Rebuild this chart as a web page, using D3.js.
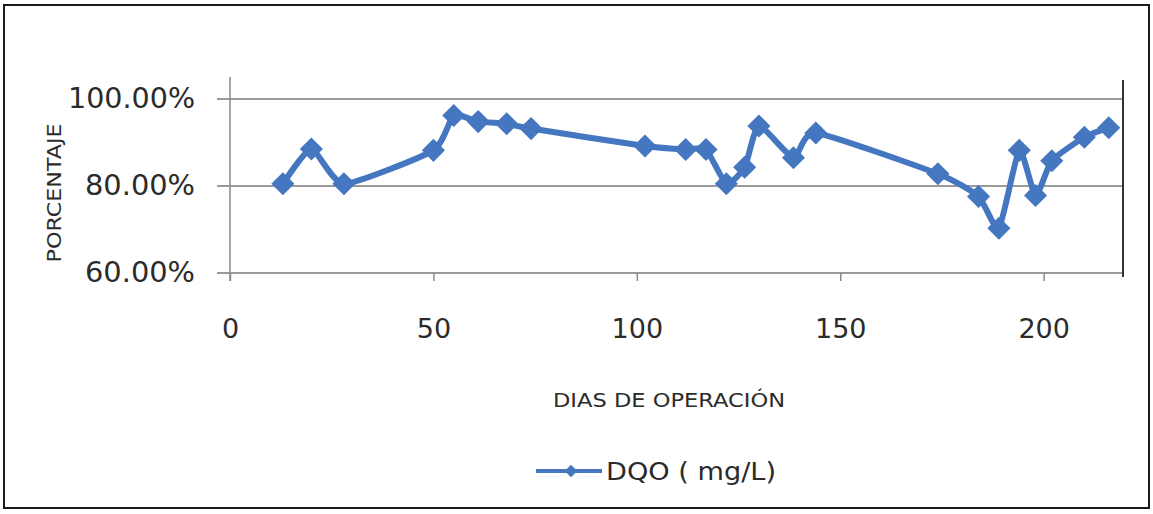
<!DOCTYPE html>
<html>
<head>
<meta charset="utf-8">
<script src="https://cdn.jsdelivr.net/npm/d3@7"></script>
<style>
  html, body { margin: 0; padding: 0; background: #fff; }
  svg { display: block; }
  text { font-family: "DejaVu Sans", sans-serif; fill: #2b2b2b; }
</style>
</head>
<body>
<svg id="chart" width="1153" height="514"></svg>
<script>
// Days of operation and COD removal (fraction)
const dias = [13, 20, 28, 50, 55, 61, 68, 74, 102, 112, 117, 122, 126.5, 130, 138.5, 144,
              174, 184, 189, 194, 198, 202, 210, 216];
const dqo = [0.805, 0.885, 0.805, 0.882, 0.962, 0.948, 0.943, 0.932, 0.892, 0.884, 0.884,
             0.805, 0.843, 0.938, 0.865, 0.922, 0.828, 0.776, 0.703, 0.882, 0.778, 0.858,
             0.912, 0.934];
const xTicks = [0, 50, 100, 150, 200];
const yTicks = [0.6, 0.8, 1.0];
const serieNombre = "DQO ( mg/L)";
const xTitulo = "DIAS DE OPERACIÓN";
const yTitulo = "PORCENTAJE";

const svg = d3.select("#chart");
const blue = "#4477c0";

// outer frame
svg.append("rect")
  .attr("x", 4).attr("y", 5).attr("width", 1145).attr("height", 503)
  .attr("fill", "none").attr("stroke", "#1a1a1a").attr("stroke-width", 2);

const plot = { left: 230, right: 1123, top: 77, bottom: 273 };

const x = d3.scaleLinear().domain([0, 219.5]).range([plot.left, plot.right]);
const y = d3.scaleLinear().domain([0.6, 1.0]).range([plot.bottom, 99]);

// horizontal gridlines (with short outer ticks to the left)
svg.append("g")
  .selectAll("line")
  .data(yTicks)
  .join("line")
  .attr("x1", plot.left - 13).attr("x2", plot.right)
  .attr("y1", d => y(d)).attr("y2", d => y(d))
  .attr("stroke", "#9a9a9a").attr("stroke-width", 2);

// y axis line
svg.append("line")
  .attr("x1", plot.left).attr("x2", plot.left)
  .attr("y1", plot.top).attr("y2", plot.bottom + 8)
  .attr("stroke", "#8a8a8a").attr("stroke-width", 1.5);

// right edge of plot
svg.append("line")
  .attr("x1", plot.right).attr("x2", plot.right)
  .attr("y1", plot.top + 3).attr("y2", plot.bottom + 4)
  .attr("stroke", "#333").attr("stroke-width", 2);

// x axis
const xAxis = d3.axisBottom(x)
  .tickValues(xTicks)
  .tickSize(8)
  .tickPadding(38)
  .tickFormat(d3.format("d"));
const gx = svg.append("g")
  .attr("transform", `translate(0,${plot.bottom})`)
  .call(xAxis);
gx.select(".domain").remove();
gx.selectAll(".tick line").attr("stroke", "#8a8a8a").attr("stroke-width", 1.5);
gx.selectAll(".tick text")
  .attr("font-size", 27)
  .attr("font-family", "DejaVu Sans, sans-serif")
  .attr("fill", "#2b2b2b");

// y axis labels
const yAxis = d3.axisLeft(y)
  .tickValues(yTicks)
  .tickSize(0)
  .tickPadding(35)
  .tickFormat(d3.format(".2%"));
const gy = svg.append("g")
  .attr("transform", `translate(${plot.left},0)`)
  .call(yAxis);
gy.select(".domain").remove();
gy.selectAll(".tick text")
  .attr("font-size", 28)
  .attr("textLength", 127).attr("lengthAdjust", "spacingAndGlyphs")
  .attr("font-family", "DejaVu Sans, sans-serif")
  .attr("fill", "#2b2b2b");
gy.selectAll(".tick text").filter(d => d < 1)
  .attr("textLength", 110);

// axis titles
svg.append("text")
  .attr("transform", "translate(61,193) rotate(-90)")
  .attr("text-anchor", "middle")
  .attr("font-size", 19)
  .attr("textLength", 139).attr("lengthAdjust", "spacingAndGlyphs")
  .text(yTitulo);

svg.append("text")
  .attr("x", 669).attr("y", 407)
  .attr("text-anchor", "middle")
  .attr("font-size", 19)
  .attr("textLength", 232).attr("lengthAdjust", "spacingAndGlyphs")
  .text(xTitulo);

// series line
const pts = dias.map((d, i) => [d, dqo[i]]);
const line = d3.line()
  .x(d => x(d[0])).y(d => y(d[1]))
  .curve(d3.curveCardinal.tension(0.45));

svg.append("path")
  .datum(pts)
  .attr("d", line)
  .attr("fill", "none")
  .attr("stroke", blue)
  .attr("stroke-width", 6)
  .attr("stroke-linejoin", "round");

const diamond = d3.symbol().type(d3.symbolDiamond2).size(340);
svg.append("g")
  .selectAll("path")
  .data(pts)
  .join("path")
  .attr("transform", d => `translate(${x(d[0])},${y(d[1])})`)
  .attr("d", diamond)
  .attr("fill", blue);

// legend
const lg = svg.append("g").attr("transform", "translate(536,471)");
lg.append("line")
  .attr("x1", 0).attr("x2", 66).attr("y1", 0).attr("y2", 0)
  .attr("stroke", blue).attr("stroke-width", 4);
lg.append("path")
  .attr("transform", "translate(35,0)")
  .attr("d", d3.symbol().type(d3.symbolDiamond2).size(100))
  .attr("fill", blue);
lg.append("text")
  .attr("x", 70).attr("y", 9)
  .attr("font-size", 25)
  .attr("textLength", 170).attr("lengthAdjust", "spacingAndGlyphs")
  .text(serieNombre);
</script>
</body>
</html>
